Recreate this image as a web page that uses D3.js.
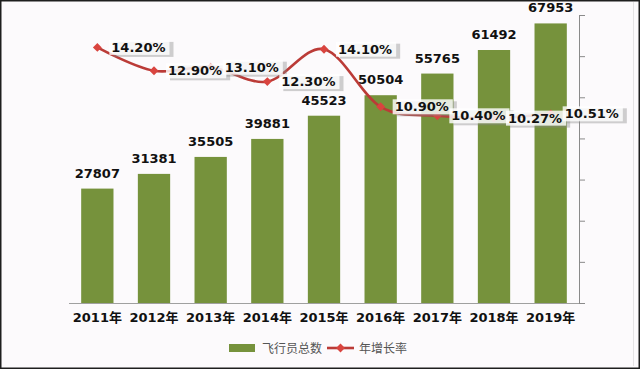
<!DOCTYPE html>
<html><head><meta charset="utf-8">
<script src="https://cdn.jsdelivr.net/npm/d3@7/dist/d3.min.js"></script>
<style>
html,body{margin:0;padding:0;background:#fcfafc;}
svg{display:block;}
</style></head>
<body>
<svg id="chart" width="640" height="369"></svg>
<script>
const categories = ["2011年","2012年","2013年","2014年","2015年","2016年","2017年","2018年","2019年"];
const pilots = [27807,31381,35505,39881,45523,50504,55765,61492,67953];
const growth = [14.20,12.90,13.10,12.30,14.10,10.90,10.40,10.27,10.51];
const growthLabels = ["14.20%","12.90%","13.10%","12.30%","14.10%","10.90%","10.40%","10.27%","10.51%"];
const leftTicks = [0,10000,20000,30000,40000,50000,60000,70000];
const legendNames = ["飞行员总数","年增长率"];

const svg = d3.select("#chart");
const W = 640, H = 369;
const m = {left:69, right:61, top:15, bottom:66};
const x0 = m.left, x1 = W - m.right, y0 = H - m.bottom, y1 = m.top;

svg.append("rect").attr("x",0).attr("y",0).attr("width",W).attr("height",H).attr("fill","#fcfafc");
svg.append("line").attr("x1",633.5).attr("x2",633.5).attr("y1",2).attr("y2",366).attr("stroke","#e4e2e4").attr("stroke-width",1);
svg.append("rect").attr("x",0.75).attr("y",0.75).attr("width",W-1.5).attr("height",H-1.5)
  .attr("fill","none").attr("stroke","#1e1e1e").attr("stroke-width",1.5);

const x = d3.scaleBand().domain(categories).range([x0,x1]).paddingInner(0.43).paddingOuter(0.215);
const yL = d3.scaleLinear().domain([0,70000]).range([y0,y1]);
const yR = d3.scaleLinear().domain([0,16]).range([y0,y1]);
const cx = d => x(d) + x.bandwidth()/2;

const numFont = "'DejaVu Sans','Noto Sans CJK SC',sans-serif";

// bars
svg.append("g").selectAll("rect").data(pilots).join("rect")
  .attr("x",(d,i)=>x(categories[i]))
  .attr("y",d=>yL(d))
  .attr("width",x.bandwidth())
  .attr("height",d=>y0-yL(d))
  .attr("fill","#76923c");

// bar labels
svg.append("g").selectAll("text").data(pilots).join("text")
  .attr("x",(d,i)=>cx(categories[i]))
  .attr("y",d=>yL(d)-11)
  .attr("text-anchor","middle")
  .attr("font-family",numFont).attr("font-weight","bold").attr("font-size",13)
  .attr("fill","#111").text(d=>d);

// x axis
const xAxis = svg.append("g").attr("transform",`translate(0,${y0})`)
  .call(d3.axisBottom(x).tickSize(0).tickPadding(10));
xAxis.select(".domain").attr("stroke","#a0a0a0").attr("stroke-width",1.2).attr("d",`M${x0},0.5H${x1}`);
xAxis.selectAll("text").attr("font-family",numFont).attr("font-weight","bold").attr("font-size",13).attr("fill","#111");

// right axis
const rAxis = svg.append("g").attr("transform",`translate(${x1},0)`)
  .call(d3.axisRight(yL).tickValues(leftTicks).tickSize(6).tickFormat(""));
rAxis.select(".domain").attr("stroke","#8a8a8a").attr("d",`M0.5,${y0}V${y1}`);
rAxis.selectAll(".tick line").attr("stroke","#8a8a8a");

// line
const pts = growth.map((g,i)=>[cx(categories[i]), yR(g)]);
svg.append("path").datum(pts)
  .attr("d",d3.line().curve(d3.curveCardinal.tension(0)))
  .attr("fill","none").attr("stroke","#bb3b37").attr("stroke-width",2.6);
svg.append("g").selectAll("path").data(pts).join("path")
  .attr("transform",d=>`translate(${d[0]},${d[1]})`)
  .attr("d",d3.symbol(d3.symbolDiamond2,50)())
  .attr("fill","#d9443f");

// percent labels with boxes
const lg = svg.append("g");
growth.forEach((g,i)=>{
  const px = pts[i][0]+14, py = pts[i][1];
  const grp = lg.append("g");
  const t = grp.append("text").attr("x",px).attr("y",py+4.5)
    .attr("font-family",numFont).attr("font-weight","bold").attr("font-size",13)
    .attr("fill","#111").text(growthLabels[i]);
  const bb = t.node().getBBox();
  grp.insert("rect","text").attr("x",bb.x-2+4).attr("y",bb.y+2).attr("width",bb.width+6).attr("height",bb.height)
    .attr("fill","#8a8a8a").attr("opacity",0.4);
  grp.insert("rect","text").attr("x",bb.x-2).attr("y",bb.y).attr("width",bb.width+6).attr("height",bb.height)
    .attr("fill","#ffffff").attr("opacity",0.82);
});

// legend
const leg = svg.append("g");
const ly = 348;
leg.append("rect").attr("x",229).attr("y",ly-4).attr("width",26).attr("height",8).attr("fill","#76923c");
leg.append("text").attr("x",262).attr("y",ly+4.5).attr("font-family","'Noto Sans CJK SC',sans-serif")
  .attr("font-size",12).attr("fill","#555").text(legendNames[0]);
leg.append("line").attr("x1",327).attr("x2",354).attr("y1",ly).attr("y2",ly).attr("stroke","#bb3b37").attr("stroke-width",2.6);
leg.append("path").attr("transform",`translate(340.5,${ly})`).attr("d",d3.symbol(d3.symbolDiamond2,50)()).attr("fill","#d9443f");
leg.append("text").attr("x",359).attr("y",ly+4.5).attr("font-family","'Noto Sans CJK SC',sans-serif")
  .attr("font-size",12).attr("fill","#555").text(legendNames[1]);
</script>
</body></html>
